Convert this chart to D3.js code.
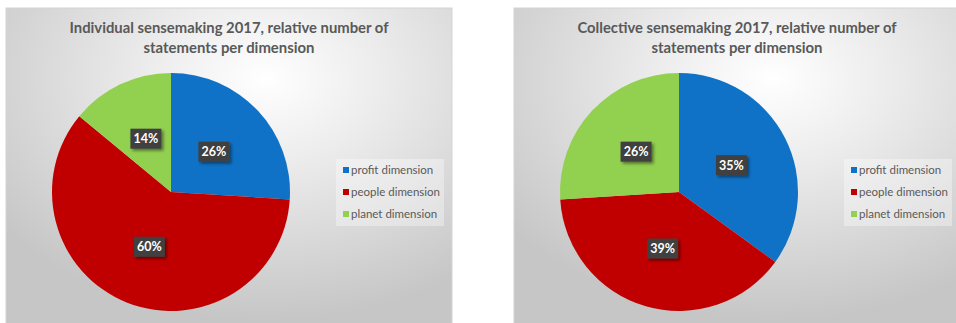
<!DOCTYPE html>
<html><head><meta charset="utf-8">
<script src="https://cdn.jsdelivr.net/npm/d3@7"></script>
<style>
html,body{margin:0;padding:0;background:#fff;}
svg{display:block;}
</style></head>
<body>
<svg id="chart" width="956" height="323"></svg>
<script>
const categories = ["profit dimension", "people dimension", "planet dimension"];
const colors = ["#0F72C6", "#C00000", "#92D050"];
const titles = [
  ["Individual  sensemaking 2017, relative number of", "statements per dimension"],
  ["Collective sensemaking 2017, relative number of", "statements per dimension"]
];
const individualValues = [26, 60, 14];
const collectiveValues = [35, 39, 26];
const panelsData = [individualValues, collectiveValues];

const svg = d3.select("#chart");
const defs = svg.append("defs");
const grad = defs.append("radialGradient").attr("id","bg")
  .attr("cx","58%").attr("cy","22%").attr("r","75%")
  .attr("fx","58%").attr("fy","22%");
grad.append("stop").attr("offset","0%").attr("stop-color","#ffffff");
grad.append("stop").attr("offset","35%").attr("stop-color","#ececec");
grad.append("stop").attr("offset","100%").attr("stop-color","#c6c6c6");

const shadow = defs.append("filter").attr("id","sh").attr("x","-30%").attr("y","-30%").attr("width","170%").attr("height","170%");
shadow.append("feDropShadow").attr("dx",2).attr("dy",2).attr("stdDeviation",1.4)
  .attr("flood-color","#000").attr("flood-opacity",0.45);

const panelX = [6, 514];
const panelW = 446, panelH = 322, panelY = 8;
const R = 119;
const font = "Lato, 'Open Sans', sans-serif";

const pie = d3.pie().sort(null).value(d => d);
const arc = d3.arc().innerRadius(0).outerRadius(R);
const labelArc = d3.arc().innerRadius(0).outerRadius(R * 0.99);
const color = d3.scaleOrdinal().domain(categories).range(colors);

panelsData.forEach((vals, pi) => {
  const g = svg.append("g").attr("transform", `translate(${panelX[pi]},${panelY})`);
  g.append("rect").attr("width", panelW).attr("height", panelH)
    .attr("fill","url(#bg)").attr("stroke","#d4d4d4").attr("stroke-width",1);

  const t = g.append("text").attr("text-anchor","middle")
    .attr("font-family", font).attr("font-weight","bold")
    .attr("font-size", 15).attr("fill","#595959");
  t.append("tspan").attr("x", 223).attr("y", 25).text(titles[pi][0])
    .attr("textLength", 319).attr("lengthAdjust","spacingAndGlyphs");
  t.append("tspan").attr("x", 223).attr("y", 45).text(titles[pi][1])
    .attr("textLength", 171).attr("lengthAdjust","spacingAndGlyphs");

  const pg = g.append("g").attr("transform", `translate(165,184)`);
  const arcs = pie(vals);
  pg.selectAll("path").data(arcs).enter().append("path")
    .attr("d", arc).attr("fill", (d,i) => color(categories[i]));

  const lg = pg.selectAll("g.lab").data(arcs).enter().append("g").attr("class","lab")
    .attr("transform", d => { const c = labelArc.centroid(d); return `translate(${c[0]},${c[1]})`; });
  lg.append("rect").attr("x",-15.5).attr("y",-10).attr("width",31).attr("height",20)
    .attr("fill","#404040").attr("filter","url(#sh)");
  lg.append("text").attr("text-anchor","middle").attr("dy","0.36em")
    .attr("font-family", font).attr("font-weight","bold").attr("font-size",12.5)
    .attr("fill","#ffffff").text(d => d.data + "%");

  const leg = g.append("g").attr("transform","translate(330,151)");
  leg.append("rect").attr("width",108).attr("height",67).attr("fill","#ffffff").attr("fill-opacity",0.35);
  categories.forEach((c, i) => {
    const y = 11 + i * 22;
    leg.append("rect").attr("x",7).attr("y",y-3).attr("width",6).attr("height",6).attr("fill",color(c));
    leg.append("text").attr("x",15).attr("y",y).attr("dy","0.35em")
      .attr("font-family", font).attr("font-size",11.5).attr("fill","#595959").text(c);
  });
});
</script>
</body></html>
